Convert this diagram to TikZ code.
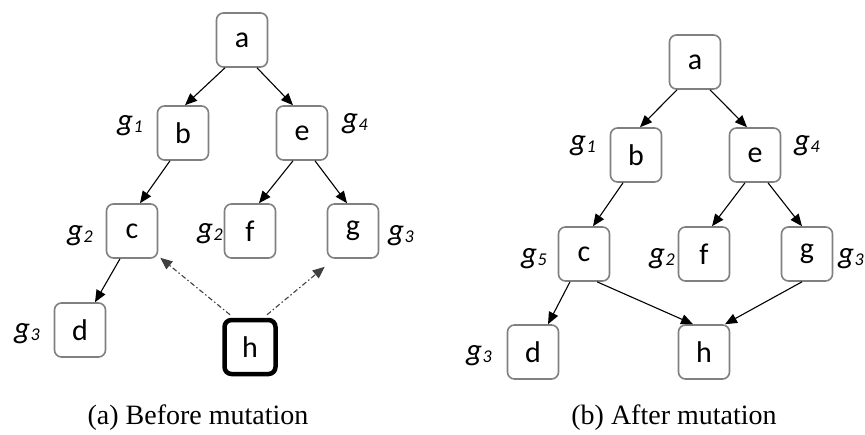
\documentclass[tikz,border=0pt]{standalone}
\usepackage{fontspec}
\setmainfont{Liberation Serif}
\newfontfamily\nodefont{Carlito}
\usetikzlibrary{arrows.meta}
\tikzset{
  box/.style={draw=black!50, line width=1.6pt, rounded corners=7pt, minimum width=51pt, minimum height=54pt, inner sep=0pt, font=\nodefont\fontsize{30}{30}\selectfont},
  hbox/.style={box, draw=black, line width=4.5pt},
  lab/.style={font=\nodefont\itshape\fontsize{31}{31}\selectfont, inner sep=0pt},
  edge/.style={line width=1.1pt, -{Triangle[length=12pt,width=10pt]}},
  dedge/.style={line width=1.1pt, black!75, dash pattern=on 5pt off 2.5pt on 1.5pt off 2.5pt, -{Triangle[length=12pt,width=10pt]}},
  captext/.style={font=\fontsize{28}{28}\selectfont, anchor=base, inner sep=0pt}
}
\newcommand{\gl}[1]{g\kern0.5pt\raisebox{-2pt}{\fontsize{18}{18}\selectfont #1}}
\begin{document}
\begin{tikzpicture}[x=1pt,y=-1pt]
\useasboundingbox (0,0) rectangle (865,434);
% ---- left: before mutation
\node[box] (la) at (242,40) {a};
\node[box] (lb) at (183,133) {b};
\node[box] (le) at (302,133) {e};
\node[box] (lc) at (132,231) {c};
\node[box] (lf) at (250,231) {f};
\node[box] (lg) at (353,231) {g};
\node[box] (ld) at (80,330) {d};
\node[hbox] (lh) at (250,347) {h};
\node[lab] (lgb) at (130,126) {\gl{1}};
\node[lab] (lge) at (355,124) {\gl{4}};
\node[lab] (lgc) at (80,236) {\gl{2}};
\node[lab] (lgf) at (210,234) {\gl{2}};
\node[lab] (lgg) at (401,236) {\gl{3}};
\node[lab] (lgd) at (27,334) {\gl{3}};
\draw[edge] ([shift={(-17,0)}]la.south) -- ([shift={(2,0)}]lb.north);
\draw[edge] ([shift={(15,0)}]la.south) -- ([shift={(-9,0)}]le.north);
\draw[edge] ([shift={(-13,0)}]lb.south) -- ([shift={(8,0)}]lc.north);
\draw[edge] ([shift={(-9,0)}]le.south) -- ([shift={(9,0)}]lf.north);
\draw[edge] ([shift={(13,0)}]le.south) -- ([shift={(-6,0)}]lg.north);
\draw[edge] ([shift={(-12,0)}]lc.south) -- ([shift={(15,0)}]ld.north);
\draw[dedge] ([shift={(-20,-3)}]lh.north) -- ([shift={(2,-1)}]lc.south east);
\draw[dedge] ([shift={(17,-3)}]lh.north) -- ([shift={(-2,8)}]lg.south west);
% ---- right: after mutation
\node[box] (ra) at (695,62) {a};
\node[box] (rb) at (636,155) {b};
\node[box] (re) at (755,155) {e};
\node[box] (rc) at (584,254) {c};
\node[box] (rf) at (704,254) {f};
\node[box] (rg) at (807,254) {g};
\node[box] (rd) at (533,352) {d};
\node[box] (rh) at (704,352) {h};
\node[lab] (rgb) at (583,146) {\gl{1}};
\node[lab] (rge) at (807,146) {\gl{4}};
\node[lab] (rgc) at (534,259) {\gl{5}};
\node[lab] (rgf) at (662,259) {\gl{2}};
\node[lab] (rgg) at (851,259) {\gl{3}};
\node[lab] (rgd) at (479,356) {\gl{3}};
\draw[edge] ([shift={(-18,0)}]ra.south) -- ([shift={(4,0)}]rb.north);
\draw[edge] ([shift={(15,0)}]ra.south) -- ([shift={(-8,0)}]re.north);
\draw[edge] ([shift={(-13,0)}]rb.south) -- ([shift={(9,0)}]rc.north);
\draw[edge] ([shift={(-10,0)}]re.south) -- ([shift={(8,0)}]rf.north);
\draw[edge] ([shift={(13,0)}]re.south) -- ([shift={(-5,0)}]rg.north);
\draw[edge] ([shift={(-14,0)}]rc.south) -- ([shift={(15,0)}]rd.north);
\draw[edge] ([shift={(13,0)}]rc.south) -- ([shift={(-11,0)}]rh.north);
\draw[edge] ([shift={(-5,0)}]rg.south) -- ([shift={(21,0)}]rh.north);
% ---- captions
\node[captext] (capa) at (198,424) {(a) Before mutation};
\node[captext] (capb) at (674,424) {(b) After mutation};
\end{tikzpicture}
\end{document}
